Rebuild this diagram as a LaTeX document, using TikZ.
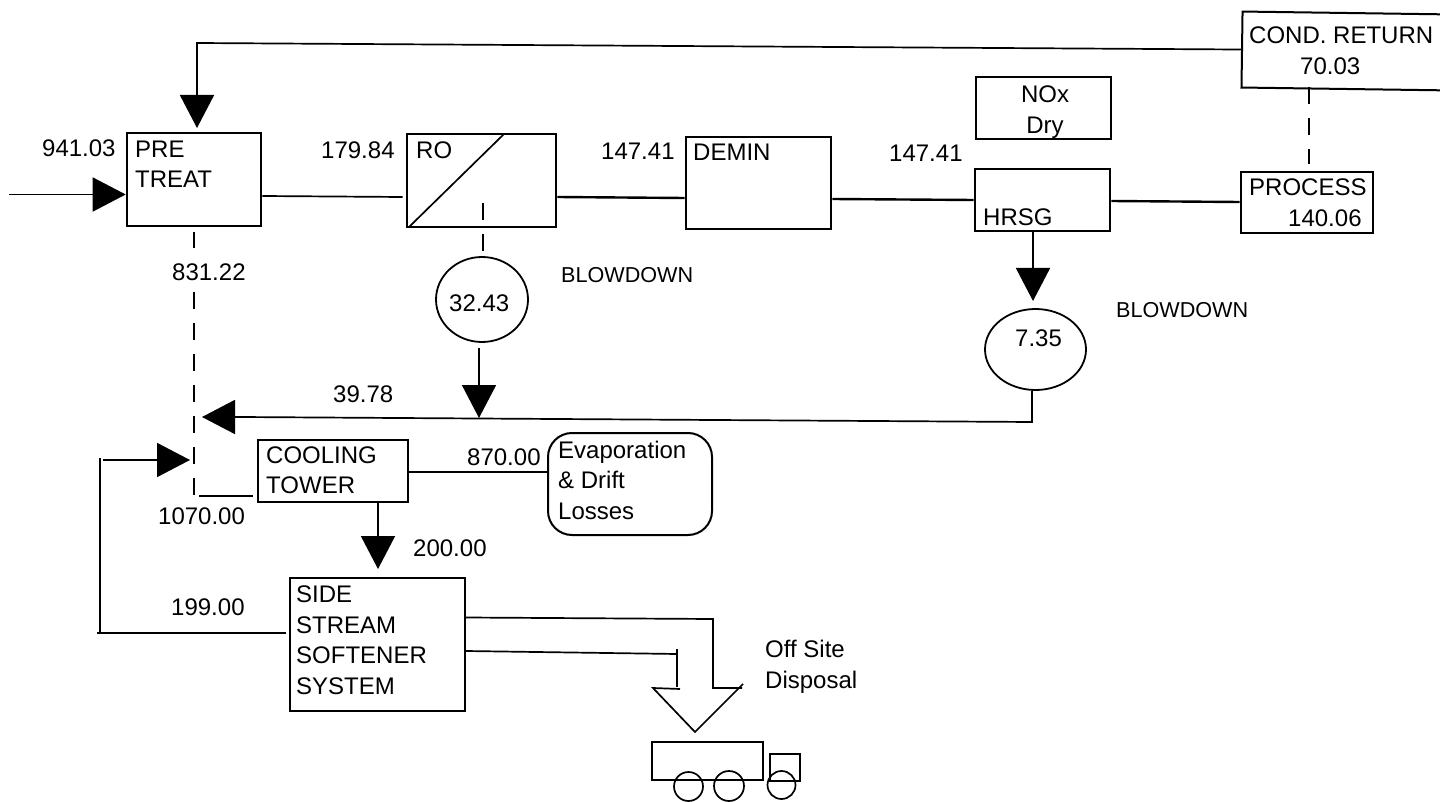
\documentclass[tikz,border=0pt]{standalone}
\usepackage{fontspec}
\setmainfont{Liberation Sans}
\usetikzlibrary{arrows.meta,shapes.geometric}
\tikzset{
  boxk/.style={draw=black,line width=2.6pt,inner sep=0pt,rectangle},
  boxthin/.style={draw=black,line width=2pt,inner sep=0pt,rectangle},
  lbl/.style={inner sep=0pt,anchor=west,align=left,font=\fontsize{24}{30.5}\selectfont},
  smalllbl/.style={inner sep=0pt,anchor=west,font=\fontsize{21.6}{26}\selectfont},
  conn/.style={line width=1.7pt,draw=black},
  connb/.style={line width=2.4pt,draw=black},
  dashline/.style={line width=2pt,draw=black,dash pattern=on 17pt off 14pt},
  bigtip/.style={-{Triangle[length=33pt,width=34pt,fill=black]}},
  vessel/.style={draw=black,line width=1.8pt,ellipse,inner sep=0pt},
  truckpart/.style={draw=black,line width=1.7pt,inner sep=0pt},
}
\begin{document}
\begin{tikzpicture}[x=1pt,y=-1pt]
\useasboundingbox (0,0) rectangle (1440,802);
\fill[white] (0,0) rectangle (1440,802);
% boxes
\node[boxk,minimum width=134pt,minimum height=93pt] (pre) at (194,179.5) {};
\node[boxk,minimum width=149pt,minimum height=93pt] (ro) at (481.5,180.5) {};
\node[boxk,minimum width=145pt,minimum height=92pt] (demin) at (758.5,183) {};
\node[boxk,minimum width=135pt,minimum height=62pt] (hrsg) at (1042.5,200) {};
\node[boxk,minimum width=135pt,minimum height=62pt] (nox) at (1043.5,108) {};
\node[boxk,minimum width=132pt,minimum height=61pt] (process) at (1307,202.5) {};
\node[boxthin,minimum width=210pt,minimum height=76pt,rotate=-0.8] (cond) at (1347,51) {};
\node[boxk,minimum width=150pt,minimum height=62pt] (cooling) at (333,471) {};
\node[boxthin,minimum width=175pt,minimum height=133pt] (side) at (377.5,644.5) {};
\node[draw=black,line width=2pt,rounded corners=24pt,minimum width=164pt,minimum height=102pt,inner sep=0pt] (evap) at (630,484) {};
\node[vessel,minimum width=92pt,minimum height=85pt] (c1) at (482,299.5) {};
\node[vessel,minimum width=101pt,minimum height=81pt] (c2) at (1035.5,349.5) {};
% truck
\node[truckpart,minimum width=111pt,minimum height=38pt] (truck) at (707.5,761) {};
\node[truckpart,minimum width=30pt,minimum height=27pt] (cab) at (785,767.5) {};
\node[truckpart,circle,minimum size=29pt] (w1) at (688.5,786.5) {};
\node[truckpart,circle,minimum size=30pt] (w2) at (729,786) {};
\node[truckpart,circle,minimum size=28pt] (w3) at (781.5,785) {};
% named free ends
\coordinate (topcorner) at (197,43);
\coordinate (toptip) at (197,128);
\coordinate (inlet) at (9,194.5);
\coordinate (junctA) at (202,417);
\coordinate (junctB) at (190,460);
\coordinate (retTop) at (100,458);
\coordinate (retBot) at (100,633);
\coordinate (retLeft) at (97,633);
\coordinate (retStart) at (103,460);
\coordinate (blowA) at (479,418);
\coordinate (blowB) at (1032,422);
\coordinate (blowC) at (240,417);
\coordinate (dashTopA) at (194,232);
\coordinate (dashTopB) at (194,248);
\coordinate (dashMid) at (194,292);
\coordinate (dashEnd) at (194,495);
\coordinate (dashCool) at (199,496);
\coordinate (dashRo) at (483,203);
\coordinate (dashCond) at (1309,87);
\coordinate (chuteL) at (677,649);
\coordinate (chuteLb) at (677,687);
\coordinate (chuteLc) at (677,654);
\coordinate (chuteR) at (713,619);
\coordinate (chuteRb) at (713,688);
\coordinate (hopEnd) at (742,688);
\coordinate (hopR) at (743,684);
\coordinate (hopTip) at (695,732);
\coordinate (hopL) at (653,688);
\coordinate (hopLe) at (680,689);
\coordinate (downTip) at (378,569);
\coordinate (hrsgTip) at (1033,301);
% connectors
\draw[conn,bigtip] (cond.west) -- (topcorner) -- (toptip);
\draw[conn,bigtip] (inlet) -- (pre.west |- inlet);
\draw[conn] ([yshift=-16.5pt]pre.east) -- ([yshift=-16.5pt,xshift=-3pt]ro.west);
\draw[connb] ([yshift=-16.5pt]ro.east) -- ([yshift=-15pt]demin.west);
\draw[connb] ([yshift=-16pt]demin.east) -- ([yshift=0pt]hrsg.west);
\draw[connb] ([yshift=-1pt]hrsg.east) -- ([yshift=0.5pt]process.west);
\draw[dashline,shorten >=7pt] (dashCond) -- (dashCond |- process.north);
\draw[dashline] (dashTopA) -- (dashTopB);
\draw[dashline] (dashMid) -- (dashEnd);
\draw[dashline,shorten >=5pt] (dashRo) -- (dashRo |- c1.north);
\draw[conn,bigtip] ([xshift=-3pt,yshift=-5pt]c1.south) -- (blowA);
\draw[conn,bigtip] ([xshift=-3.5pt]c2.south) -- (blowB) -- (blowC) -- (junctA);
\draw[conn] ([xshift=-3pt,yshift=11.5pt]side.west) -- (retLeft);
\draw[conn] (retBot) -- (retTop);
\draw[conn,bigtip] (retStart) -- (junctB);
\draw[conn] ([xshift=-4pt,yshift=-25pt]cooling.west) -- (dashCool);
\draw[conn] ([yshift=-1pt]cooling.east) -- (evap.west |- 0,472);
\draw[conn,bigtip] ([xshift=45pt]cooling.south) -- (downTip);
\draw[conn,bigtip] ([xshift=-9.5pt]hrsg.south) -- (hrsgTip);
\draw[conn] ([yshift=27pt]side.east) -- (chuteR) -- (chuteRb) -- (hopEnd);
\draw[conn] (hopR) -- (hopTip) -- (hopL) -- (hopLe);
\draw[conn] ([yshift=-6.5pt]side.east) -- (chuteLc);
\draw[conn] (chuteL) -- (chuteLb);
\draw[conn] ([xshift=3pt,yshift=1pt]ro.south west) -- ([xshift=-54pt,yshift=-2pt]ro.north east);
% labels
\node[lbl] (t1) at (42,148) {941.03};
\node[lbl] (t2) at (135,164) {PRE\\TREAT};
\node[lbl] (t3) at (321,150) {179.84};
\node[lbl] (t4) at (416,150) {RO};
\node[lbl] (t5) at (601,151) {147.41};
\node[lbl] (t6) at (693,152) {DEMIN};
\node[lbl] (t7) at (889,153) {147.41};
\node[lbl] (t8) at (983,217) {HRSG};
\node[lbl,anchor=center,align=center] (t9) at (1045,112) {NOx\\Dry};
\node[lbl] (t10) at (1249,35) {COND. RETURN};
\node[lbl] (t11) at (1300,66) {70.03};
\node[lbl] (t12) at (1249,187) {PROCESS};
\node[lbl] (t13) at (1288,218) {140.06};
\node[lbl] (t14) at (172,272) {831.22};
\node[lbl] (t15) at (449,303) {32.43};
\node[smalllbl] (t16) at (561,275) {BLOWDOWN};
\node[smalllbl] (t17) at (1116,310) {BLOWDOWN};
\node[lbl] (t18) at (1015,338) {7.35};
\node[lbl] (t19) at (333,394) {39.78};
\node[lbl] (t20) at (266,470) {COOLING\\TOWER};
\node[lbl] (t21) at (467,457) {870.00};
\node[lbl] (t22) at (558,480) {Evaporation\\\& Drift\\Losses};
\node[lbl] (t23) at (158,516) {1070.00};
\node[lbl] (t24) at (413,548) {200.00};
\node[lbl] (t25) at (171,607) {199.00};
\node[lbl] (t26) at (296,640) {SIDE\\STREAM\\SOFTENER\\SYSTEM};
\node[lbl] (t27) at (765,667) {Off Site\\Disposal};
\end{tikzpicture}
\end{document}
